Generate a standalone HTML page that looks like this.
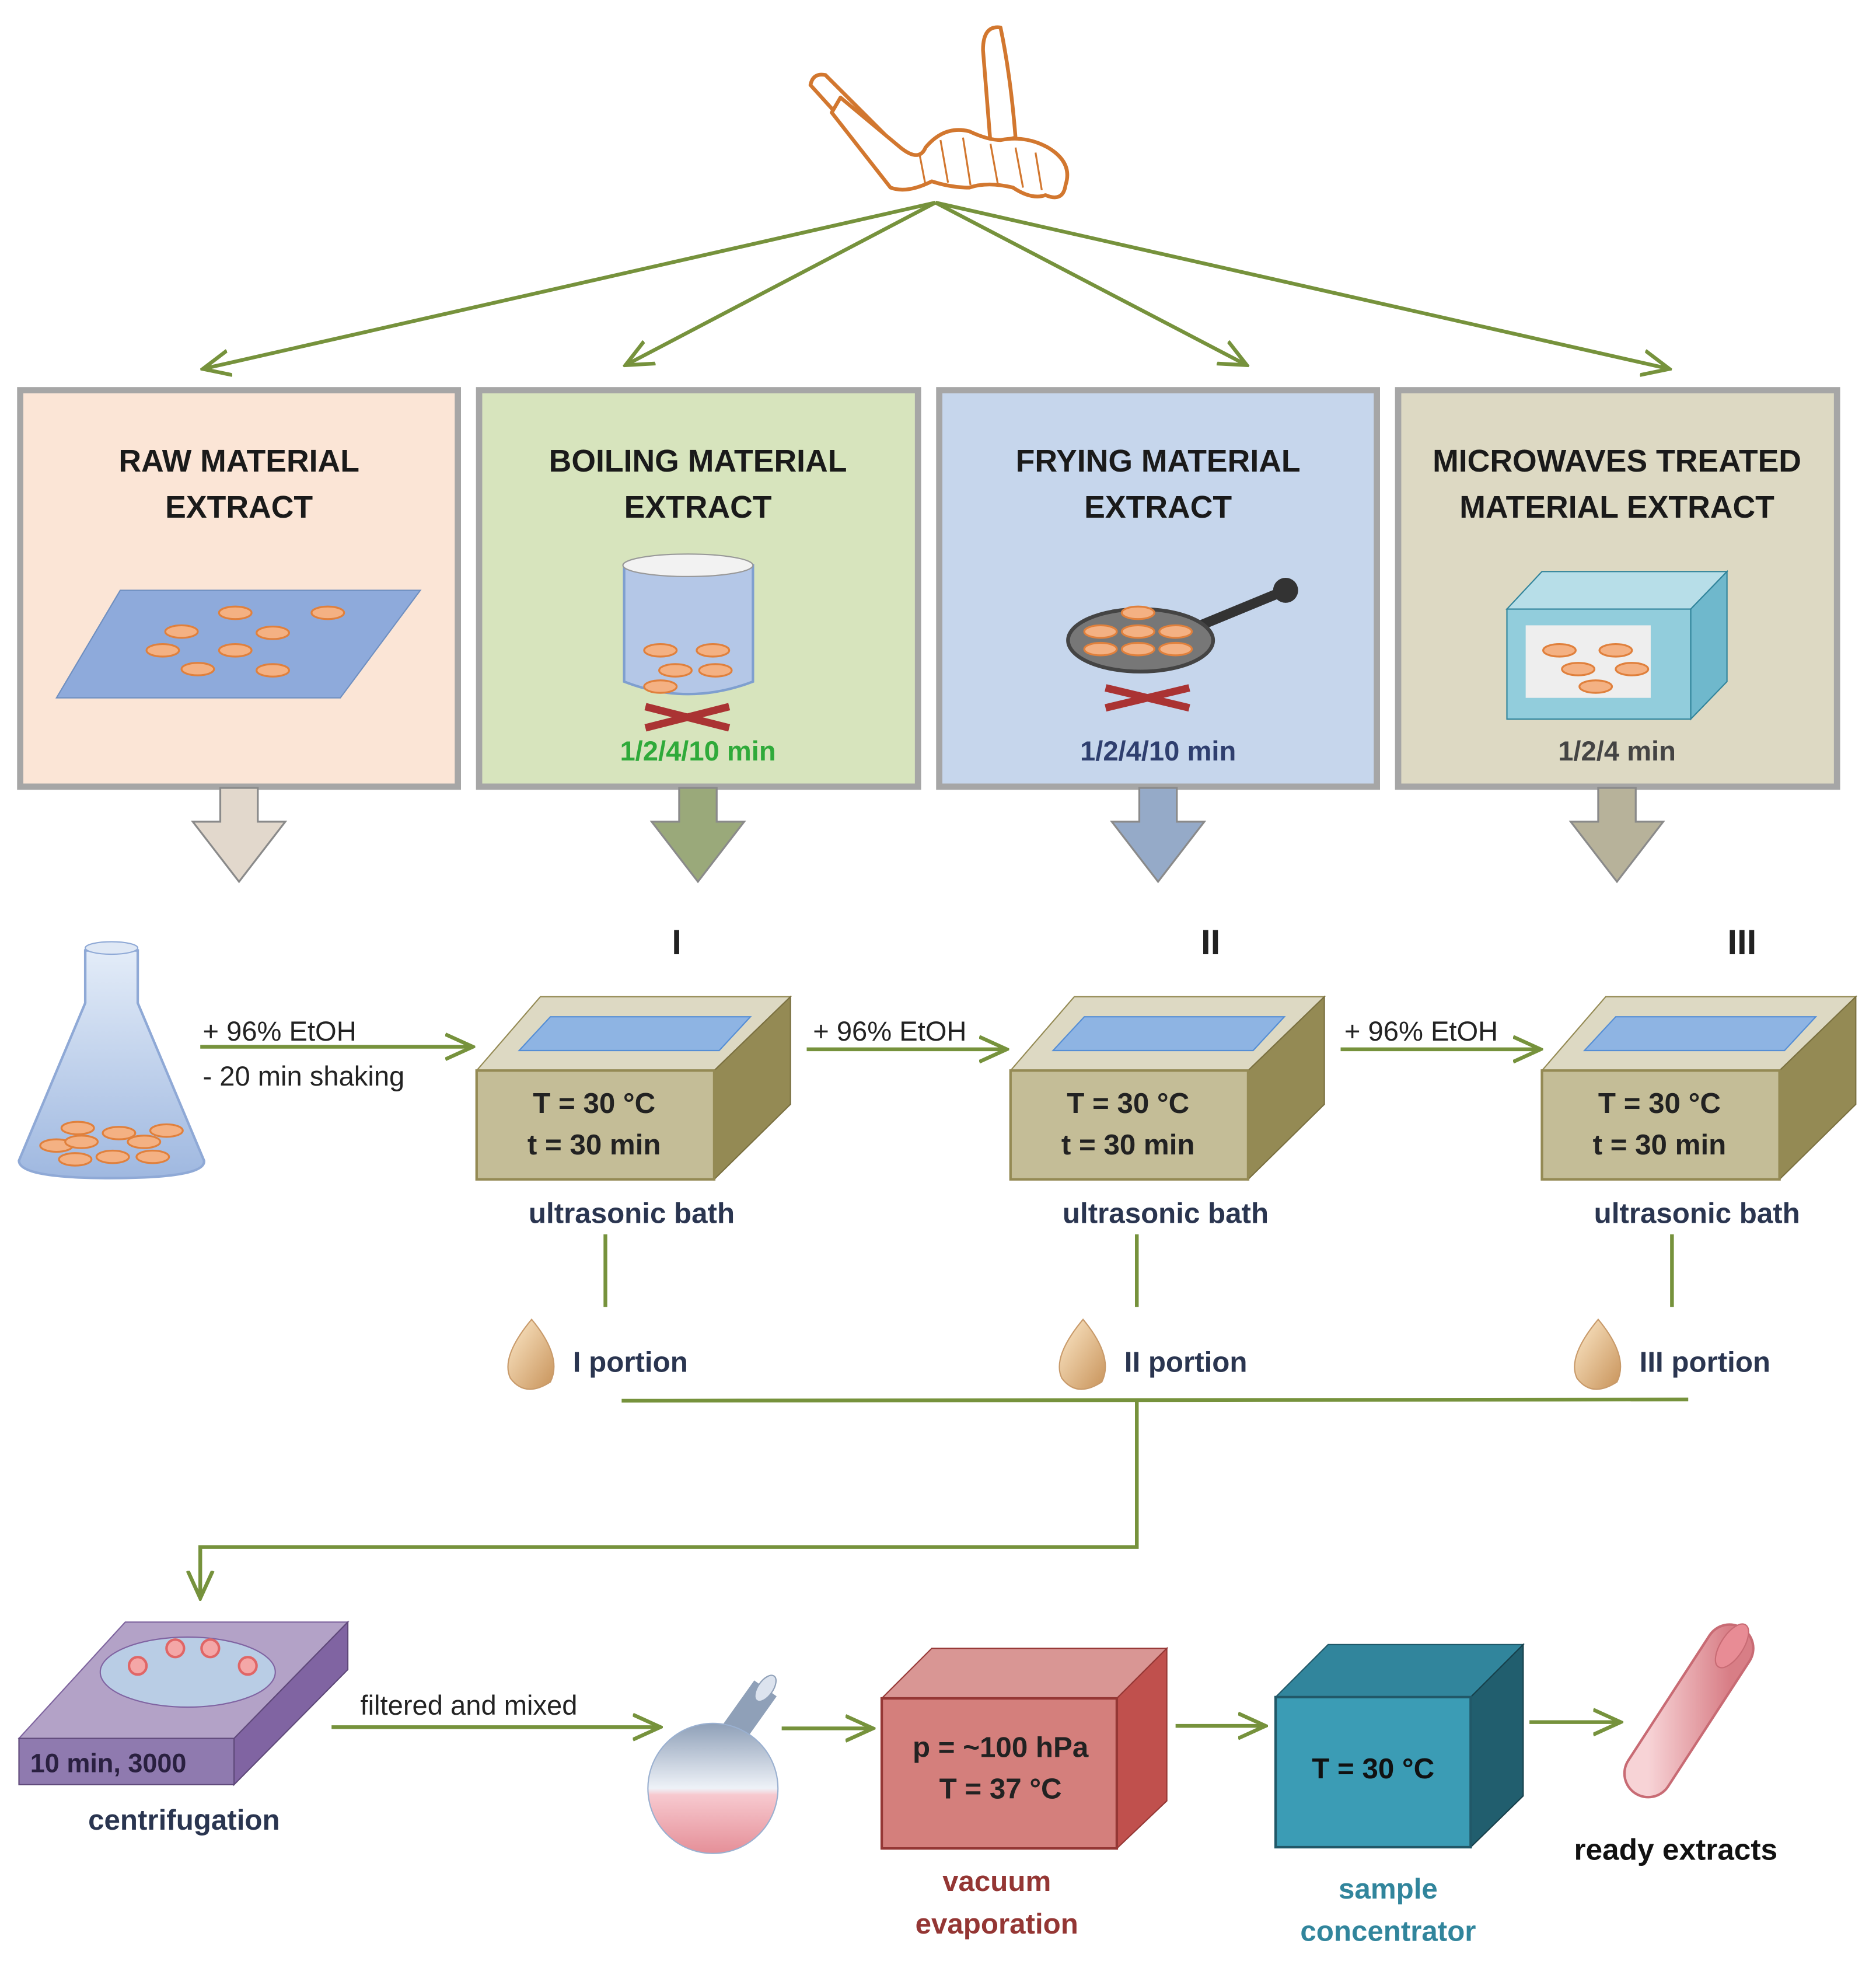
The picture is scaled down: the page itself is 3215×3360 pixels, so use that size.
<!DOCTYPE html>
<html><head><meta charset="utf-8"><style>
html,body{margin:0;padding:0;background:#fff}
svg{display:block}
text{font-family:"Liberation Sans",sans-serif}
</style></head><body>
<svg width="3215" height="3360" viewBox="0 0 1500 1568" xmlns="http://www.w3.org/2000/svg">
<defs>
<marker id="ah2" markerWidth="24" markerHeight="24" refX="22" refY="12" orient="auto" markerUnits="userSpaceOnUse"><path d="M0,2 L22,12 L0,22" fill="none" stroke="#76923c" stroke-width="3"/></marker>
<linearGradient id="drop" x1="0" y1="0" x2="1" y2="1"><stop offset="0" stop-color="#fde9c9"/><stop offset="1" stop-color="#c8935a"/></linearGradient>
<linearGradient id="flask" x1="0" y1="0" x2="0" y2="1"><stop offset="0" stop-color="#e3ecf8"/><stop offset="1" stop-color="#9fb8e0"/></linearGradient>
<linearGradient id="rf" x1="0" y1="0" x2="0" y2="1"><stop offset="0" stop-color="#8fa0b8"/><stop offset="0.5" stop-color="#eef2f8"/><stop offset="0.55" stop-color="#f7c9cf"/><stop offset="1" stop-color="#e58f98"/></linearGradient>
<linearGradient id="tube" x1="0" y1="0" x2="1" y2="0"><stop offset="0" stop-color="#f7d3d6"/><stop offset="1" stop-color="#d87e86"/></linearGradient>
</defs>

<!-- ginseng -->
<g fill="#fff" stroke="#d2772f" stroke-width="3" stroke-linejoin="round">
<path d="M786,40 Q786,20 800,22 Q808,60 812,110 L792,115 Z"/>
<path d="M648,68 Q650,58 660,60 L720,120 L706,132 Z"/>
<path d="M672,78 L720,118 Q735,130 740,118 Q755,100 775,105 Q790,112 800,112 Q820,108 838,118 Q858,130 852,148 Q850,162 836,156 Q825,160 810,150 Q790,145 775,150 Q760,150 745,145 Q725,155 712,150 L665,90 Z"/>
<path d="M735,122 L740,148 M752,112 L758,146 M770,110 L776,148 M792,115 L798,148 M812,118 L818,150 M828,122 L833,152" fill="none" stroke-width="1.5"/>
</g>

<!-- top arrows -->
<g stroke="#76923c" stroke-width="3" fill="none">
<line x1="748" y1="162" x2="162" y2="295" marker-end="url(#ah2)"/>
<line x1="748" y1="162" x2="500" y2="292" marker-end="url(#ah2)"/>
<line x1="748" y1="162" x2="997" y2="292" marker-end="url(#ah2)"/>
<line x1="748" y1="162" x2="1335" y2="295" marker-end="url(#ah2)"/>
</g>

<!-- boxes -->
<g stroke="#a6a6a6" stroke-width="5">
<rect x="16" y="312" width="350" height="317" fill="#fbe5d6"/>
<rect x="383" y="312" width="351" height="317" fill="#d7e4bd"/>
<rect x="751" y="312" width="350" height="317" fill="#c6d6ec"/>
<rect x="1118" y="312" width="351" height="317" fill="#ddd9c3"/>
</g>
<g font-weight="bold" font-size="25" text-anchor="middle" fill="#1a1a1a">
<text x="191" y="377">RAW MATERIAL</text><text x="191" y="414">EXTRACT</text>
<text x="558" y="377">BOILING MATERIAL</text><text x="558" y="414">EXTRACT</text>
<text x="926" y="377">FRYING MATERIAL</text><text x="926" y="414">EXTRACT</text>
<text x="1293" y="377">MICROWAVES TREATED</text><text x="1293" y="414">MATERIAL EXTRACT</text>
</g>
<!-- raw tray -->
<polygon points="45,558 96,472 336,472 272,558" fill="#8eaadb" stroke="#6f8fc0"/>
<g fill="#f4b183" stroke="#e0803c" stroke-width="1.5">
<ellipse cx="145" cy="505" rx="13" ry="5"/><ellipse cx="188" cy="490" rx="13" ry="5"/><ellipse cx="262" cy="490" rx="13" ry="5"/>
<ellipse cx="218" cy="506" rx="13" ry="5"/><ellipse cx="130" cy="520" rx="13" ry="5"/><ellipse cx="188" cy="520" rx="13" ry="5"/>
<ellipse cx="158" cy="535" rx="13" ry="5"/><ellipse cx="218" cy="536" rx="13" ry="5"/>
</g>
<!-- boiling pot -->
<path d="M499,452 L499,545 Q550,565 602,545 L602,452 Z" fill="#b4c7e7" stroke="#7f9fcf" stroke-width="2"/>
<ellipse cx="550" cy="452" rx="52" ry="9" fill="#f2f2f2" stroke="#999"/>
<g fill="#f4b183" stroke="#e0803c" stroke-width="1.5">
<ellipse cx="528" cy="520" rx="13" ry="5"/><ellipse cx="570" cy="520" rx="13" ry="5"/><ellipse cx="540" cy="536" rx="13" ry="5"/><ellipse cx="572" cy="536" rx="13" ry="5"/><ellipse cx="528" cy="549" rx="13" ry="5"/>
</g>
<path d="M516,565 L583,582 M516,582 L583,565" stroke="#a33" stroke-width="6"/>
<text x="558" y="608" font-size="22" font-weight="bold" fill="#2faa3a" text-anchor="middle">1/2/4/10 min</text>
<!-- pan -->
<line x1="960" y1="500" x2="1028" y2="472" stroke="#333" stroke-width="8"/>
<circle cx="1028" cy="472" r="10" fill="#333"/>
<ellipse cx="912" cy="512" rx="58" ry="25" fill="#777" stroke="#444" stroke-width="3"/>
<g fill="#f4b183" stroke="#e0803c" stroke-width="1.5">
<ellipse cx="910" cy="490" rx="13" ry="5"/><ellipse cx="880" cy="505" rx="13" ry="5"/><ellipse cx="910" cy="505" rx="13" ry="5"/><ellipse cx="940" cy="505" rx="13" ry="5"/>
<ellipse cx="880" cy="519" rx="13" ry="5"/><ellipse cx="910" cy="519" rx="13" ry="5"/><ellipse cx="940" cy="519" rx="13" ry="5"/>
</g>
<path d="M884,550 L951,566 M884,566 L951,550" stroke="#a33" stroke-width="6"/>
<text x="926" y="608" font-size="22" font-weight="bold" fill="#2f3f6f" text-anchor="middle">1/2/4/10 min</text>
<!-- microwave -->
<polygon points="1205,487 1233,457 1381,457 1352,487" fill="#b7dee8" stroke="#31849b"/>
<polygon points="1352,487 1381,457 1381,545 1352,575" fill="#6fb8cc" stroke="#31849b"/>
<rect x="1205" y="487" width="147" height="88" fill="#92cddc" stroke="#31849b"/>
<rect x="1220" y="500" width="100" height="58" fill="#eeeeee"/>
<g fill="#f4b183" stroke="#e0803c" stroke-width="1.5">
<ellipse cx="1247" cy="520" rx="13" ry="5"/><ellipse cx="1292" cy="520" rx="13" ry="5"/><ellipse cx="1262" cy="535" rx="13" ry="5"/><ellipse cx="1305" cy="535" rx="13" ry="5"/><ellipse cx="1276" cy="549" rx="13" ry="5"/>
</g>
<text x="1293" y="608" font-size="22" font-weight="bold" fill="#444" text-anchor="middle">1/2/4 min</text>

<!-- block arrows -->
<g stroke="#8a8a8a" stroke-width="1.5">
<polygon points="176,630 206,630 206,657 228,657 191,705 154,657 176,657" fill="#e2d8cc"/>
<polygon points="543,630 573,630 573,657 595,657 558,705 521,657 543,657" fill="#9aa97a"/>
<polygon points="911,630 941,630 941,657 963,657 926,705 889,657 911,657" fill="#95aac8"/>
<polygon points="1278,630 1308,630 1308,657 1330,657 1293,705 1256,657 1278,657" fill="#b7b29a"/>
</g>

<g font-weight="bold" font-size="28" text-anchor="middle" fill="#222">
<text x="541" y="763">I</text><text x="968" y="763">II</text><text x="1393" y="763">III</text>
</g>

<!-- flask -->
<path d="M68,760 L68,802 L15,928 Q15,942 88,942 Q165,942 163,928 L110,802 L110,760 Z" fill="url(#flask)" stroke="#8fa9d6" stroke-width="2"/>
<ellipse cx="89" cy="758" rx="21" ry="5" fill="#dfe8f5" stroke="#8fa9d6"/>
<g fill="#f4b183" stroke="#e0803c" stroke-width="1.5">
<ellipse cx="62" cy="902" rx="13" ry="5"/><ellipse cx="95" cy="906" rx="13" ry="5"/><ellipse cx="133" cy="904" rx="13" ry="5"/>
<ellipse cx="45" cy="916" rx="13" ry="5"/><ellipse cx="65" cy="913" rx="13" ry="5"/><ellipse cx="115" cy="913" rx="13" ry="5"/>
<ellipse cx="60" cy="927" rx="13" ry="5"/><ellipse cx="90" cy="925" rx="13" ry="5"/><ellipse cx="122" cy="925" rx="13" ry="5"/>
</g>

<!-- EtOH arrows -->
<g stroke="#76923c" stroke-width="3">
<line x1="160" y1="837" x2="378" y2="837" marker-end="url(#ah2)"/>
<line x1="645" y1="839" x2="805" y2="839" marker-end="url(#ah2)"/>
<line x1="1072" y1="839" x2="1232" y2="839" marker-end="url(#ah2)"/>
</g>
<g font-size="22" fill="#222">
<text x="162" y="832">+ 96% EtOH</text><text x="162" y="868">- 20 min shaking</text>
<text x="650" y="832">+ 96% EtOH</text><text x="1075" y="832">+ 96% EtOH</text>
</g>

<!-- baths -->
<g id="bath">
<polygon points="381,856 432,797 632,797 571,856" fill="#ddd9c3" stroke="#948a54"/>
<polygon points="571,856 632,797 632,883 571,943" fill="#948a54" stroke="#7a7040"/>
<rect x="381" y="856" width="190" height="87" fill="#c4bd97" stroke="#948a54" stroke-width="2"/>
<polygon points="415,840 440,813 600,813 575,840" fill="#8eb4e3" stroke="#558ed5"/>
</g>
<use href="#bath" transform="translate(427,0)"/>
<use href="#bath" transform="translate(852,0)"/>
<g font-weight="bold" font-size="23" text-anchor="middle" fill="#222">
<text x="475" y="890">T = 30 °C</text><text x="475" y="923">t = 30 min</text>
<text x="902" y="890">T = 30 °C</text><text x="902" y="923">t = 30 min</text>
<text x="1327" y="890">T = 30 °C</text><text x="1327" y="923">t = 30 min</text>
</g>
<g font-weight="bold" font-size="23" text-anchor="middle" fill="#2a3550">
<text x="505" y="978">ultrasonic bath</text><text x="932" y="978">ultrasonic bath</text><text x="1357" y="978">ultrasonic bath</text>
</g>

<!-- portions -->
<g stroke="#76923c" stroke-width="3" fill="none">
<line x1="484" y1="987" x2="484" y2="1045"/><line x1="909" y1="987" x2="909" y2="1045"/><line x1="1337" y1="987" x2="1337" y2="1045"/>
<line x1="497" y1="1120" x2="1350" y2="1119"/>
<polyline points="909,1120 909,1237 160,1237 160,1278" marker-end="url(#ah2)"/>
</g>
<g fill="url(#drop)" stroke="#c89a6a">
<path d="M425,1055 Q400,1085 408,1102 Q420,1118 440,1105 Q450,1085 425,1055 Z"/>
<path d="M866,1055 Q841,1085 849,1102 Q861,1118 881,1105 Q891,1085 866,1055 Z"/>
<path d="M1278,1055 Q1253,1085 1261,1102 Q1273,1118 1293,1105 Q1303,1085 1278,1055 Z"/>
</g>
<g font-weight="bold" font-size="23" fill="#2a3550">
<text x="458" y="1097">I portion</text><text x="899" y="1097">II portion</text><text x="1311" y="1097">III portion</text>
</g>

<!-- centrifuge -->
<polygon points="15,1390 100,1297 278,1297 187,1390" fill="#b3a2c7" stroke="#7e649e"/>
<polygon points="187,1390 278,1297 278,1335 187,1427" fill="#8064a2" stroke="#5f497a"/>
<rect x="15" y="1390" width="172" height="37" fill="#8f7aaf" stroke="#5f497a"/>
<ellipse cx="150" cy="1337" rx="70" ry="28" fill="#b9cde5" stroke="#8064a2"/>
<g fill="#f4a7a7" stroke="#e06666" stroke-width="2">
<circle cx="110" cy="1332" r="7"/><circle cx="140" cy="1318" r="7"/><circle cx="168" cy="1318" r="7"/><circle cx="198" cy="1332" r="7"/>
</g>
<text x="24" y="1417" font-size="21" font-weight="bold" fill="#2a2040">10 min, 3000</text>
<text x="147" y="1463" font-size="23" font-weight="bold" fill="#2a3550" text-anchor="middle">centrifugation</text>

<g stroke="#76923c" stroke-width="3">
<line x1="265" y1="1381" x2="528" y2="1381" marker-end="url(#ah2)"/>
<line x1="625" y1="1382" x2="698" y2="1382" marker-end="url(#ah2)"/>
<line x1="940" y1="1380" x2="1012" y2="1380" marker-end="url(#ah2)"/>
<line x1="1223" y1="1377" x2="1296" y2="1377" marker-end="url(#ah2)"/>
</g>
<text x="288" y="1371" font-size="22" fill="#222">filtered and mixed</text>

<!-- round flask -->
<line x1="580" y1="1395" x2="612" y2="1350" stroke="#8fa0b8" stroke-width="22"/>
<ellipse cx="612" cy="1350" rx="12" ry="6" fill="#dce3ee" stroke="#8fa0b8" transform="rotate(-55 612 1350)"/>
<circle cx="570" cy="1430" r="52" fill="url(#rf)" stroke="#9ab0d0"/>

<!-- red cube -->
<polygon points="705,1358 745,1318 933,1318 893,1358" fill="#d99694" stroke="#953735"/>
<polygon points="893,1358 933,1318 933,1440 893,1478" fill="#c0504d" stroke="#953735"/>
<rect x="705" y="1358" width="188" height="120" fill="#d47f7c" stroke="#953735" stroke-width="2"/>
<text x="800" y="1405" font-size="23" font-weight="bold" fill="#222" text-anchor="middle">p = ~100 hPa</text>
<text x="800" y="1438" font-size="23" font-weight="bold" fill="#222" text-anchor="middle">T = 37 °C</text>
<text x="797" y="1512" font-size="23" font-weight="bold" fill="#943634" text-anchor="middle">vacuum</text>
<text x="797" y="1546" font-size="23" font-weight="bold" fill="#943634" text-anchor="middle">evaporation</text>

<!-- teal cube -->
<polygon points="1020,1357 1062,1315 1218,1315 1176,1357" fill="#31859c" stroke="#215868"/>
<polygon points="1176,1357 1218,1315 1218,1436 1176,1477" fill="#215e6e" stroke="#17404b"/>
<rect x="1020" y="1357" width="156" height="120" fill="#3b9cb5" stroke="#215868" stroke-width="2"/>
<text x="1098" y="1422" font-size="23" font-weight="bold" fill="#111" text-anchor="middle">T = 30 °C</text>
<text x="1110" y="1518" font-size="23" font-weight="bold" fill="#31859c" text-anchor="middle">sample</text>
<text x="1110" y="1552" font-size="23" font-weight="bold" fill="#31859c" text-anchor="middle">concentrator</text>

<!-- tube -->
<line x1="1318" y1="1418" x2="1383" y2="1318" stroke="#c86b74" stroke-width="40" stroke-linecap="round"/>
<line x1="1318" y1="1418" x2="1383" y2="1318" stroke="url(#tube)" stroke-width="36" stroke-linecap="round"/>
<ellipse cx="1385" cy="1316" rx="20" ry="9" fill="#e88c95" stroke="#c86b74" transform="rotate(-57 1385 1316)"/>
<text x="1340" y="1487" font-size="24" font-weight="bold" fill="#111" text-anchor="middle">ready extracts</text>
</svg>
</body></html>
